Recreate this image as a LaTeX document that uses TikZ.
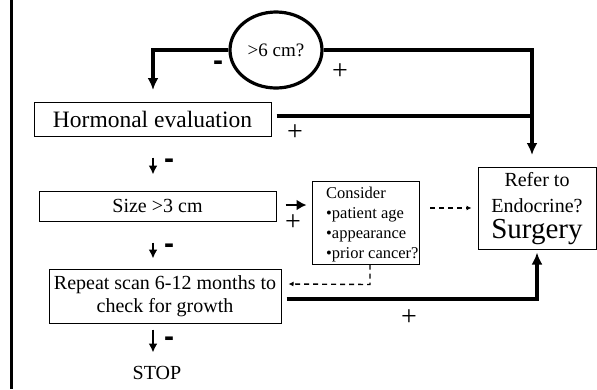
\documentclass[tikz,border=0pt]{standalone}
\usepackage{fontspec}
\setmainfont{Liberation Serif}
\newfontfamily\signfont{Liberation Sans}
\usetikzlibrary{arrows.meta,shapes.geometric}
\begin{document}
\begin{tikzpicture}[x=1pt,y=-1pt,
  box/.style={draw, line width=1pt, inner sep=0pt, font=\fontsize{20}{23}\selectfont, align=center},
  flow/.style={line width=3.2pt},
  bigtip/.style={-{Latex[length=12pt,width=11pt]}},
  smalltip/.style={-{Latex[length=9pt,width=9pt]}},
  dashtip/.style={line width=1.4pt, dash pattern=on 5pt off 4pt, -{Latex[length=5pt,width=5pt]}},
  sign/.style={font=\fontsize{28}{28}\selectfont, inner sep=0pt},
  minus/.style={font=\signfont\bfseries\fontsize{30}{30}\selectfont, inner sep=0pt},
  label/.style={font=\fontsize{20}{24}\selectfont, inner sep=0pt}]
\useasboundingbox (0,0) rectangle (597,389);
\draw[line width=2.4pt] (11.5,0) -- (11.5,389);

% nodes
\node[ellipse, draw, line width=3.2pt, minimum width=92pt, minimum height=76pt, inner sep=0pt,
  font=\fontsize{19}{22}\selectfont] (q) at (276,50) {>6 cm?};
\node[box, minimum width=237pt, minimum height=34pt, font=\fontsize{23.5}{26}\selectfont] (ho) at (152.5,119) {Hormonal evaluation};
\node[box, minimum width=237pt, minimum height=30pt] (sz) at (157.5,206) {Size >3 cm};
\node[box, minimum width=232pt, minimum height=54pt] (rep) at (165,296) {Repeat scan 6-12 months to\\check for growth};
\node[box, minimum width=107pt, minimum height=83pt] (con) at (366,222.5) {};
\node[anchor=west, align=left, inner sep=0pt, font=\fontsize{16.5}{20}\selectfont] (contxt) at (326,224.5)
  {Consider\\•patient age\\•appearance\\•prior cancer?};
\node[box, minimum width=118pt, minimum height=82pt] (ref) at (537,208) {};
\node[label] (reft1) at (537,180) {Refer to};
\node[label] (reft2) at (537,206) {Endocrine?};
\node[font=\fontsize{29}{30}\selectfont, inner sep=0pt] (reft3) at (537,232) {Surgery};
\node[label] (stop) at (157,373) {STOP};

% coordinates
\coordinate (a1) at (153,90);
\coordinate (a2) at (532,155);
\coordinate (hoout) at ([xshift=5pt,yshift=3pt]ho.east);

% connectors
\draw[flow, bigtip] (q.west) -| (a1);
\draw[flow, bigtip] (q.east) -| (a2);
\draw[flow] (hoout) -- (hoout -| a2);
\draw[line width=2.4pt, smalltip] ([xshift=0.5pt,yshift=-21pt]ho.south) -- ([xshift=0.5pt,yshift=-38pt]ho.south);
\draw[line width=2.4pt, smalltip] ([xshift=-4.5pt,yshift=-21pt]sz.south) -- ([xshift=-4.5pt,yshift=-37pt]sz.south);
\draw[line width=2.4pt, smalltip] ([xshift=-12pt,yshift=-6pt]rep.south) -- ([xshift=-12pt,yshift=-29pt]rep.south);
\draw[line width=2.8pt, -{Latex[length=10pt,width=11pt]}] ([xshift=9pt,yshift=1pt]sz.east) -- ([xshift=30pt,yshift=1pt]sz.east);
\draw[dashtip, shorten <=10pt, shorten >=6pt] (con.east |- ref.west) -- (ref.west);
\draw[dashtip] ([xshift=4pt]con.south) -- ++(0,20) -- ([xshift=7pt,yshift=12pt]rep.east);
\draw[flow, bigtip] ([xshift=5pt,yshift=-3pt]rep.east) -| ([yshift=-3pt]ref.south);

% signs
\node[minus] (m1) at (218,66) {-};
\node[sign] (p1) at (340,72) {+};
\node[sign] (p2) at (295,133) {+};
\node[minus] (m2) at (169,164) {-};
\node[sign] (p3) at (293,223) {+};
\node[minus] (m3) at (169,249) {-};
\node[minus] (m4) at (169,342) {-};
\node[sign] (p4) at (409,318) {+};
\end{tikzpicture}
\end{document}
